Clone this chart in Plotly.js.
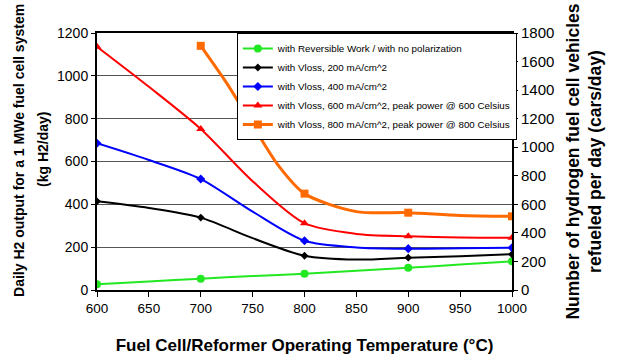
<!DOCTYPE html>
<html><head><meta charset="utf-8">
<script src="https://cdn.plot.ly/plotly-3.0.1.min.js"></script>
<style>html,body{margin:0;padding:0;background:#fff}#chart{width:621px;height:358px}</style>
</head><body><div id="chart"></div>
<script>
// Temperatures (°C)
const tempsAll = [600, 650, 700, 750, 800, 850, 900, 950, 1000];
const tempsOrange = [700, 725, 750, 775, 800, 850, 900, 950, 1000];
// Which points are plotted data markers (every 100 °C)
const markedAll = [1, 0, 1, 0, 1, 0, 1, 0, 1];
const markedOrange = [1, 0, 0, 0, 1, 0, 1, 0, 1];

// Daily H2 output (kg H2/day)
const reversible = [27, 40, 53, 65, 76, 90, 104, 119, 134];
const vloss200 = [414, 383, 338, 242, 160, 142, 151, 158, 167];
const vloss400 = [685, 607, 518, 366, 230, 199, 193, 195, 197];
const vloss600 = [1136, 949, 752, 508, 312, 262, 251, 245, 244];
const vloss800 = [1140, 966, 770, 580, 450, 366, 361, 348, 344];

const seriesNames = [
  "with Reversible Work / with no polarization",
  "with Vloss, 200 mA/cm^2",
  "with Vloss, 400 mA/cm^2",
  "with Vloss, 600 mA/cm^2, peak power @ 600 Celsius",
  "with Vloss, 800 mA/cm^2, peak power @ 800 Celsius"
];
const leftTicks = [0, 200, 400, 600, 800, 1000, 1200];
const rightTicks = [0, 200, 400, 600, 800, 1000, 1200, 1400, 1600, 1800];
const xTicks = [600, 650, 700, 750, 800, 850, 900, 950, 1000];

const styles = [
  {color: '#22e822', symbol: 'circle', size: 8, width: 2},
  {color: '#000000', symbol: 'diamond', size: 6, width: 2},
  {color: '#0000ff', symbol: 'diamond', size: 7, width: 2},
  {color: '#ff0000', symbol: 'triangle-up', size: 8, width: 2},
  {color: '#ff6a00', symbol: 'square', size: 8, width: 3}
];
const ys = [reversible, vloss200, vloss400, vloss600, vloss800];
const xs = [tempsAll, tempsAll, tempsAll, tempsAll, tempsOrange];
const marks = [markedAll, markedAll, markedAll, markedAll, markedOrange];

const traces = [];
// smoothed lines
ys.forEach((y, i) => {
  traces.push({
    type: 'scatter', mode: 'lines', x: xs[i], y: y, showlegend: false,
    line: {color: styles[i].color, width: styles[i].width, shape: 'spline', smoothing: 0.8},
    hoverinfo: 'skip'
  });
});
// markers at the measured points (separated by gaps so no line joins them)
ys.forEach((y, i) => {
  const mx = [], my = [];
  xs[i].forEach((x, k) => {
    if (marks[i][k]) { mx.push(x, null); my.push(y[k], null); }
  });
  traces.push({
    type: 'scatter', mode: 'lines+markers', name: seriesNames[i],
    x: mx, y: my, connectgaps: false,
    line: {color: styles[i].color, width: styles[i].width},
    marker: {color: styles[i].color, symbol: styles[i].symbol, size: styles[i].size, line: {width: 0}},
    hoverinfo: 'skip'
  });
});
// invisible trace to activate the right axis
traces.push({type: 'scatter', x: [600], y: [0], yaxis: 'y2', mode: 'markers',
  marker: {opacity: 0}, showlegend: false, hoverinfo: 'skip'});

const fontFam = 'Liberation Sans, Arial, sans-serif';
const layout = {
  width: 621, height: 358,
  margin: {l: 97, r: 109, t: 33, b: 68},
  paper_bgcolor: '#fff', plot_bgcolor: '#fff',
  font: {family: fontFam, size: 14, color: '#000'},
  showlegend: true,
  legend: {x: 0.337, y: 1.0, xanchor: 'left', yanchor: 'top',
    bgcolor: '#fff', bordercolor: '#000', borderwidth: 1,
    font: {size: 9.8, family: fontFam}, itemwidth: 30, tracegroupgap: 0},
  xaxis: {range: [600, 1000], tickvals: xTicks,
    ticks: 'outside', ticklen: 5, tickwidth: 1, tickcolor: '#000',
    showline: true, linewidth: 2, linecolor: '#000', mirror: true,
    showgrid: false, zeroline: false,
    tickfont: {size: 13.5},
    title: {text: '<b>Fuel Cell/Reformer Operating Temperature (°C)</b>', font: {size: 17}, standoff: 24}},
  yaxis: {range: [0, 1200], tickvals: leftTicks,
    ticks: 'outside', ticklen: 4, tickcolor: '#000',
    showline: true, linewidth: 2, linecolor: '#000', mirror: true,
    showgrid: true, gridcolor: '#555', gridwidth: 1, zeroline: false,
    tickfont: {size: 14}},
  yaxis2: {range: [0, 1800], tickvals: rightTicks, overlaying: 'y', side: 'right',
    ticks: 'outside', ticklen: 4, tickcolor: '#000',
    showline: true, linewidth: 2, linecolor: '#000',
    showgrid: false, zeroline: false, tickfont: {size: 15},
    title: {text: '<b>Number of hydrogen fuel cell vehicles<br>refueled per day (cars/day)</b>', font: {size: 17.5}, standoff: 13}},
  annotations: [{
    text: '<b>Daily H2 output for a 1 MWe fuel cell system</b>',
    xref: 'paper', yref: 'paper', x: -0.188, y: 0.545, xanchor: 'center', yanchor: 'middle',
    textangle: -90, showarrow: false, font: {size: 14, family: fontFam, color: '#000'}
  }, {
    text: '<b>(kg H2/day)</b>',
    xref: 'paper', yref: 'paper', x: -0.130, y: 0.545, xanchor: 'center', yanchor: 'middle',
    textangle: -90, showarrow: false, font: {size: 14, family: fontFam, color: '#000'}
  }]
};
Plotly.newPlot('chart', traces, layout, {displayModeBar: false, staticPlot: true});
</script></body></html>
